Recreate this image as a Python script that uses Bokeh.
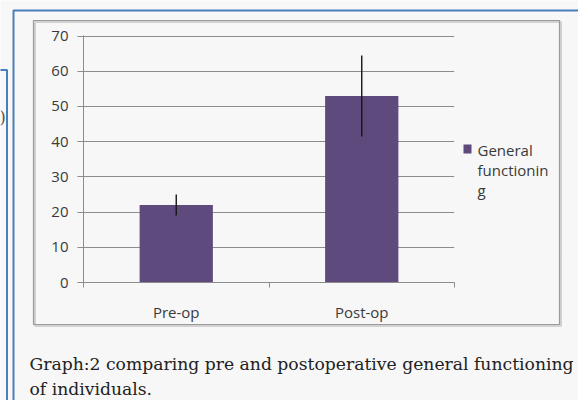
from bokeh.plotting import figure
from bokeh.models import ColumnDataSource, FixedTicker, Label, BoxAnnotation
from bokeh.embed import file_html
from bokeh.resources import INLINE

# ---- data ----
categories = ["Pre-op", "Post-op"]
means = [22, 53]
err_low = [19, 41.5]
err_high = [25, 64.5]
y_ticks = [0, 10, 20, 30, 40, 50, 60, 70]
legend_lines = ["General", "functionin", "g"]
caption_lines = ["Graph:2 comparing pre and postoperative general functioning",
                 "of individuals."]

BAR = "#5f4a7d"
GRID = "#8c8c8c"
TXT = "#3a3a3a"
BG = "#f7f7f7"
BLUE = "#4a7ebb"
FONT = "Open Sans"
W, H = 578, 400
STACK = {"position": "absolute", "top": "0px", "left": "0px"}

# ---------- background page: frames, legend, caption ----------
deco = figure(width=W, height=H, output_backend="svg", toolbar_location=None,
              x_axis_location=None, y_axis_location=None, min_border=0,
              background_fill_color=BG, border_fill_color=BG, outline_line_color=None,
              styles=dict(STACK))
deco.grid.visible = False


def cbox(l, r, t, b, **kw):
    return BoxAnnotation(left=l, right=r, top=t, bottom=b, left_units="canvas", right_units="canvas",
                         top_units="canvas", bottom_units="canvas", **kw)


# text-box frames of the document
deco.add_layout(cbox(-50, 6.5, 69.5, 900, fill_alpha=0, line_color=BLUE, line_alpha=1, line_width=2))
deco.add_layout(cbox(13, 900, 10, 900, fill_alpha=0, line_color=BLUE, line_alpha=1, line_width=2))
deco.add_layout(Label(x=-1, y=126, x_units="canvas", y_units="canvas", text=")",
                      text_font="DejaVu Serif", text_font_size="16px", text_color="#555555"))
# chart frame with soft shadow
deco.add_layout(cbox(34.5, 560.5, 21.5, 325.5, fill_alpha=0, line_color="#d2d2d2", line_alpha=1, line_width=2))
deco.add_layout(cbox(33, 559, 20, 324, fill_alpha=0, line_color="#9a9a9a", line_alpha=1, line_width=1.2))

# legend
deco.add_layout(cbox(463, 471, 144, 153, fill_color=BAR, fill_alpha=1, line_color=None))
for i, t in enumerate(legend_lines):
    deco.add_layout(Label(x=477, y=149 + 20 * i, x_units="canvas", y_units="canvas", text=t,
                          text_font=FONT, text_font_size="15px", text_color=TXT, text_baseline="middle"))

# caption
for i, t in enumerate(caption_lines):
    deco.add_layout(Label(x=29, y=363 + 25 * i, x_units="canvas", y_units="canvas", text=t,
                          text_font="DejaVu Serif", text_font_size="17.2px", text_color="#222222",
                          text_baseline="alphabetic"))

# ---------- the chart, laid over the page ----------
xs = [i + 0.5 for i in range(len(categories))]
src = ColumnDataSource(dict(x=xs, top=means, lower=err_low, upper=err_high))

p = figure(width=W, height=H, output_backend="svg", toolbar_location=None,
           x_range=(0, len(categories)), y_range=(0, 70.15),
           min_border_left=83, min_border_right=124, min_border_top=35, min_border_bottom=118,
           background_fill_alpha=0, border_fill_alpha=0, outline_line_color=None,
           styles=dict(STACK))

p.vbar(x="x", top="top", width=0.395, source=src, fill_color=BAR, line_color=None)
p.segment(x0="x", y0="lower", x1="x", y1="upper", source=src, line_color="#151515", line_width=1.4)

p.yaxis.ticker = FixedTicker(ticks=y_ticks)
p.yaxis.major_tick_out = 6
p.yaxis.major_tick_in = 0
p.yaxis.minor_tick_out = 0
p.yaxis.axis_line_color = GRID
p.yaxis.major_tick_line_color = GRID
p.yaxis.major_label_standoff = 9
p.yaxis.major_label_text_font = FONT
p.yaxis.major_label_text_font_size = "15px"
p.yaxis.major_label_text_color = TXT
p.ygrid.ticker = FixedTicker(ticks=y_ticks)
p.ygrid.grid_line_color = GRID
p.xgrid.grid_line_color = None

p.xaxis.ticker = FixedTicker(ticks=xs, minor_ticks=list(range(len(categories) + 1)))
p.xaxis.major_label_overrides = {x: c for x, c in zip(xs, categories)}
p.xaxis.major_tick_out = 0
p.xaxis.major_tick_in = 0
p.xaxis.minor_tick_out = 5
p.xaxis.minor_tick_in = 0
p.xaxis.minor_tick_line_color = GRID
p.xaxis.axis_line_color = GRID
p.xaxis.major_label_standoff = 14
p.xaxis.major_label_text_font = FONT
p.xaxis.major_label_text_font_size = "15px"
p.xaxis.major_label_text_color = TXT

open("out.html", "w").write(file_html([deco, p], INLINE))
